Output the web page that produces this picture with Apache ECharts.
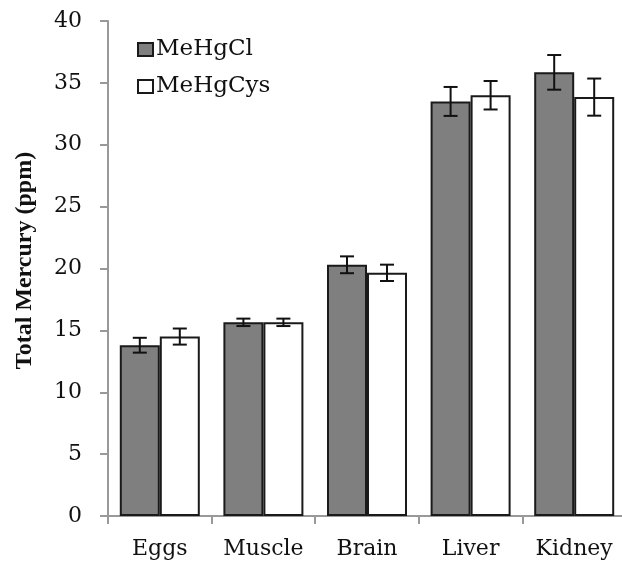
<!DOCTYPE html>
<html>
<head>
<meta charset="utf-8">
<script src="https://cdn.jsdelivr.net/npm/echarts@6/dist/echarts.min.js"></script>
<style>
  html, body { margin: 0; padding: 0; background: #fff; }
  #chart { width: 622px; height: 564px; }
</style>
</head>
<body>
<div id="chart"></div>
<script>
// 数据
var categories = ["Eggs", "Muscle", "Brain", "Liver", "Kidney"];
var clValues = [13.8, 15.65, 20.3, 33.5, 35.85];
var clErrors = [0.6, 0.3, 0.68, 1.17, 1.4];
var cysValues = [14.5, 15.65, 19.65, 34.0, 33.85];
var cysErrors = [0.65, 0.3, 0.66, 1.15, 1.5];

var serif = '"DejaVu Serif", "Liberation Serif", serif';
var barW = 40;

function errorSeries(values, errors, offset) {
  return {
    type: "custom",
    silent: true,
    z: 5,
    data: values.map(function (v, i) {
      return [i, v - errors[i], v + errors[i]];
    }),
    renderItem: function (params, api) {
      var lo = api.coord([api.value(0), api.value(1)]);
      var hi = api.coord([api.value(0), api.value(2)]);
      var x = lo[0] + offset;
      var cap = 7;
      var style = { stroke: "#111", lineWidth: 2 };
      return {
        type: "group",
        children: [
          { type: "line", shape: { x1: x, y1: hi[1], x2: x, y2: lo[1] }, style: style },
          { type: "line", shape: { x1: x - cap, y1: hi[1], x2: x + cap, y2: hi[1] }, style: style },
          { type: "line", shape: { x1: x - cap, y1: lo[1], x2: x + cap, y2: lo[1] }, style: style }
        ]
      };
    }
  };
}

var chart = echarts.init(document.getElementById("chart"));
var option = {
  animation: false,
  textStyle: { fontFamily: serif },
  legend: {
    orient: "vertical",
    left: 132,
    top: 33,
    icon: "rect",
    itemWidth: 15,
    itemHeight: 13,
    itemGap: 14,
    data: ["MeHgCl", "MeHgCys"],
    textStyle: { fontFamily: serif, fontSize: 23, lineHeight: 23, color: "#111", padding: [0, 0, 0, -2] }
  },
  grid: {
    left: 108,
    right: -4,
    top: 21,
    bottom: 48,
    containLabel: false,
    outerBoundsMode: "none"
  },
  xAxis: {
    type: "category",
    data: categories,
    axisLine: { lineStyle: { color: "#999", width: 2 } },
    axisTick: { show: true, interval: 0, length: 8, lineStyle: { color: "#999", width: 2 } },
    axisLabel: { interval: 0, hideOverlap: false, fontFamily: serif, fontSize: 22, color: "#111", margin: 22 }
  },
  yAxis: {
    type: "value",
    min: 0,
    max: 40,
    interval: 5,
    name: "Total Mercury (ppm)",
    nameLocation: "middle",
    nameGap: 71,
    nameTextStyle: {
      fontFamily: '"Liberation Serif", "Times New Roman", serif',
      fontSize: 24,
      fontWeight: "bold",
      color: "#111",
      padding: [0, 0, 0, 16]
    },
    axisLine: { show: true, lineStyle: { color: "#999", width: 2 } },
    axisTick: { show: true, length: 8, lineStyle: { color: "#999", width: 2 } },
    axisLabel: { fontFamily: serif, fontSize: 22, color: "#111", margin: 26 },
    splitLine: { show: false }
  },
  series: [
    {
      name: "MeHgCl",
      type: "bar",
      data: clValues,
      barWidth: barW,
      barGap: "0%",
      itemStyle: { color: "#7f7f7f", borderColor: "#1a1a1a", borderWidth: 2 }
    },
    {
      name: "MeHgCys",
      type: "bar",
      data: cysValues,
      barWidth: barW,
      barGap: "0%",
      itemStyle: { color: "#ffffff", borderColor: "#1a1a1a", borderWidth: 2 }
    },
    errorSeries(clValues, clErrors, -barW / 2),
    errorSeries(cysValues, cysErrors, barW / 2)
  ]
};
chart.setOption(option);
</script>
</body>
</html>
